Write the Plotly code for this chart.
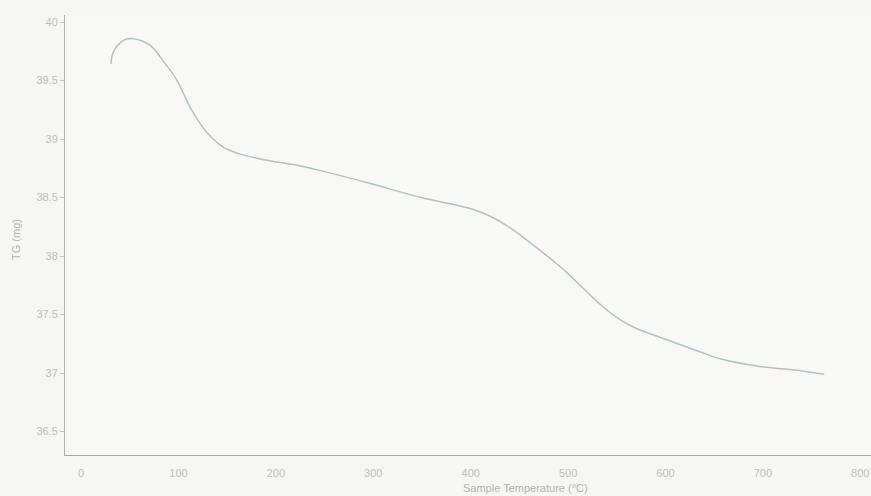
import plotly.graph_objects as go

temperature_c = [30.8, 33, 43, 52, 71, 84, 98.6, 112, 125, 135.5, 146, 160, 184, 225,
                 246, 297, 349, 369, 402, 420, 437, 454, 471, 489, 500, 516, 534, 551,
                 568, 603, 636, 657, 698, 739, 763]
tg_mg = [39.64, 39.74, 39.84, 39.86, 39.80, 39.67, 39.50, 39.27, 39.10, 39.00, 38.93,
         38.88, 38.83, 38.77, 38.73, 38.62, 38.50, 38.465, 38.40, 38.34, 38.26, 38.16,
         38.05, 37.93, 37.85, 37.72, 37.58, 37.47, 37.39, 37.28, 37.18, 37.12, 37.055,
         37.02, 36.99]

x_ticks = [0, 100, 200, 300, 400, 500, 600, 700, 800]
y_ticks = [36.5, 37, 37.5, 38, 38.5, 39, 39.5, 40]

fig = go.Figure()
fig.add_trace(go.Scatter(
    x=temperature_c, y=tg_mg, mode="lines",
    line=dict(color="#b2c1c0", width=1.5, shape="spline", smoothing=1.0),
    showlegend=False,
))

font_family = "Liberation Sans, Arial, sans-serif"
axis_font = dict(family=font_family, size=11, color="#bcc0bc")
fig.update_layout(
    width=871, height=496,
    margin=dict(l=65, r=0, t=15, b=41),
    paper_bgcolor="#f6f7f4",
    plot_bgcolor="#f8f9f6",
    xaxis=dict(range=[-16.5, 811], tickvals=x_ticks, showgrid=False, zeroline=False,
               showline=True, linecolor="#a4a8a4", linewidth=1.2,
               ticks="", ticklabelstandoff=8, tickfont=axis_font),
    yaxis=dict(range=[36.3, 40.06], tickvals=y_ticks, showgrid=False, zeroline=False,
               showline=True, linecolor="#b0b4b0", linewidth=1,
               ticks="outside", ticklen=4, tickcolor="#c0c4c0",
               tickfont=axis_font),
    annotations=[
        dict(text="Sample Temperature (°C)", xref="paper", yref="paper",
             x=(525 - 65) / 806, y=-33 / 440, xanchor="center", yanchor="middle",
             showarrow=False, font=dict(family=font_family, size=11, color="#b0b4b0")),
        dict(text="TG (mg)", xref="paper", yref="paper",
             x=-49 / 806, y=(455 - 240) / 440, xanchor="center", yanchor="middle",
             textangle=-90, showarrow=False,
             font=dict(family=font_family, size=11, color="#b0b4b0")),
    ],
)

fig.write_html(
    "out.html",
    config={"displayModeBar": False},
    post_script="document.body.style.margin='0';document.body.style.overflow='hidden';"
                "document.body.style.background='#f6f7f4';",
)
